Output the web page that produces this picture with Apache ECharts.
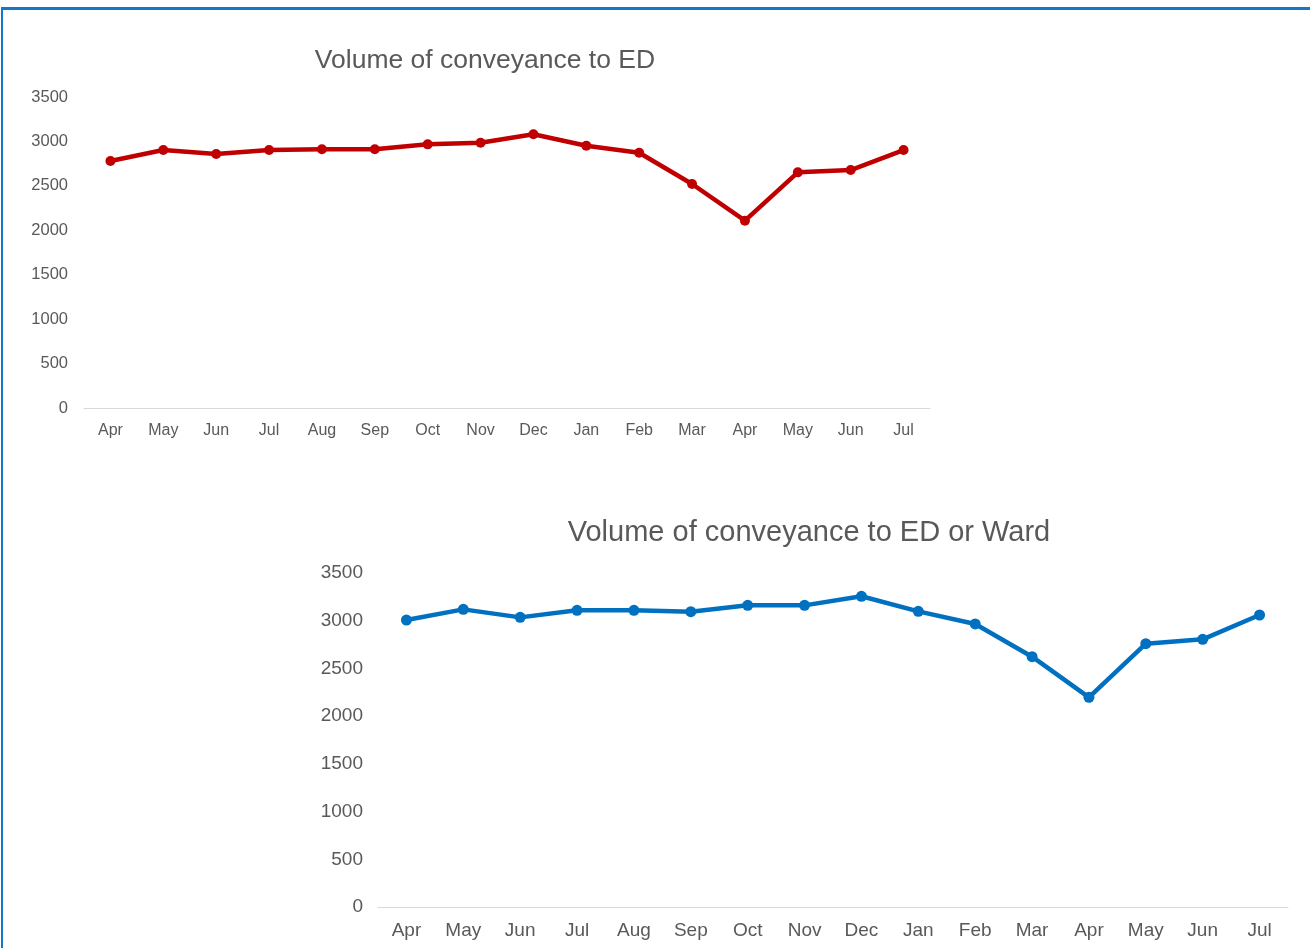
<!DOCTYPE html>
<html><head><meta charset="utf-8">
<script src="https://cdn.jsdelivr.net/npm/echarts@6/dist/echarts.min.js"></script>
<style>
html,body{margin:0;padding:0;background:#fff;}
#frame{position:absolute;left:1px;top:7px;width:1320px;height:960px;border-left:2px solid #1677c8;border-top:3px solid #1677c8;}
#c{position:absolute;left:0;top:0;width:1310px;height:948px;}
</style></head>
<body>
<div id="frame"></div>
<div id="c"></div>
<script>
const months = ['Apr','May','Jun','Jul','Aug','Sep','Oct','Nov','Dec','Jan','Feb','Mar','Apr','May','Jun','Jul'];
const edVolume = [2780,2903,2858,2903,2911,2911,2967,2986,3080,2952,2873,2521,2108,2652,2678,2903];
const edWardVolume = [3007,3119,3035,3109,3109,3095,3161,3161,3256,3098,2966,2623,2197,2759,2805,3060];
const title1 = 'Volume of conveyance to ED';
const title2 = 'Volume of conveyance to ED or Ward';

const font = 'Liberation Sans, Arial, sans-serif';
const grey = '#595959';
const chart = echarts.init(document.getElementById('c'), null, {renderer:'canvas'});
function yAx(gi, fs, margin){
  return {type:'value', gridIndex:gi, min:0, max:3500, interval:500,
    axisLine:{show:false}, axisTick:{show:false}, splitLine:{show:false},
    axisLabel:{color:grey, fontFamily:font, fontSize:fs, margin:margin, formatter:function(v){return String(v);}}};
}
function xAx(gi, fs, margin){
  return {type:'category', gridIndex:gi, data:months, boundaryGap:true,
    axisLine:{show:true, lineStyle:{color:'#d9d9d9', width:1}}, axisTick:{show:false},
    axisLabel:{color:grey, fontFamily:font, fontSize:fs, margin:margin, interval:0}};
}
chart.setOption({
  animation:false,
  title:[
    {text:title1, left:485, top:47, textAlign:'center', padding:0,
     textStyle:{color:grey, fontFamily:font, fontSize:26.5, fontWeight:'normal'}},
    {text:title2, left:809, top:518, textAlign:'center', padding:0,
     textStyle:{color:grey, fontFamily:font, fontSize:29, fontWeight:'normal'}}
  ],
  grid:[
    {left:84, right:380, top:97, bottom:540},
    {left:378, right:22, top:573, bottom:41}
  ],
  xAxis:[xAx(0,16,15), xAx(1,19,14)],
  yAxis:[yAx(0,16.5,16), yAx(1,19,15)],
  series:[
    {type:'line', xAxisIndex:0, yAxisIndex:0, data:edVolume, color:'#C00000',
     lineStyle:{width:4.5, color:'#C00000'}, symbol:'circle', symbolSize:10,
     itemStyle:{color:'#C00000'}},
    {type:'line', xAxisIndex:1, yAxisIndex:1, data:edWardVolume, color:'#0070C0',
     lineStyle:{width:4.5, color:'#0070C0'}, symbol:'circle', symbolSize:11,
     itemStyle:{color:'#0070C0'}}
  ]
});
</script>
</body></html>
